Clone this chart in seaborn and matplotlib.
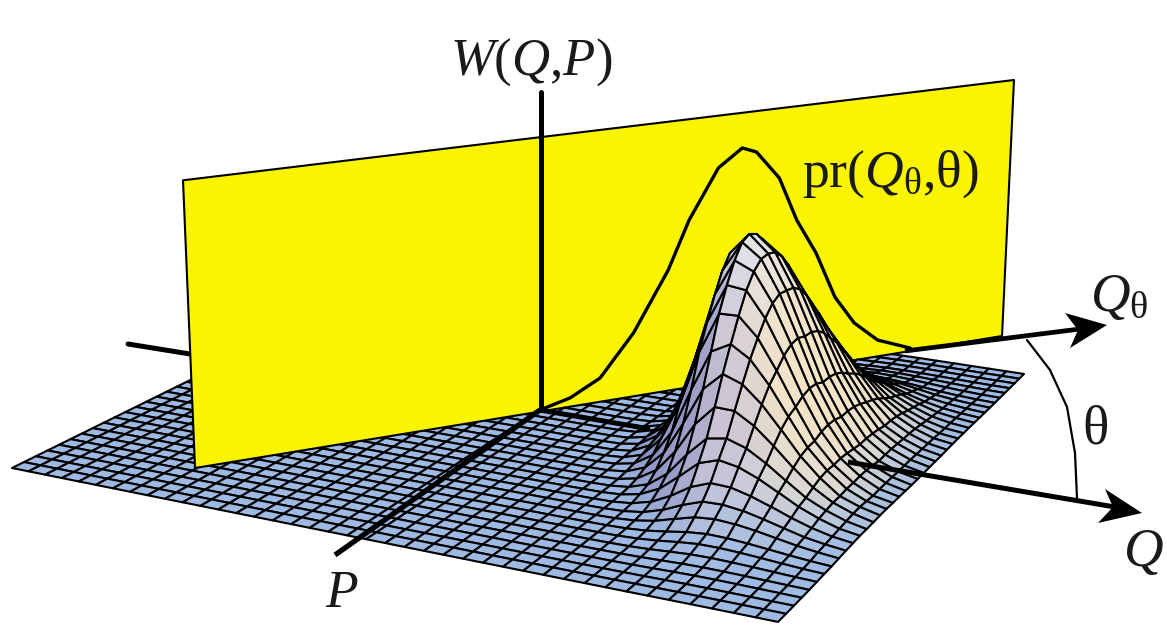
import numpy as np
import matplotlib
matplotlib.use("Agg")
import matplotlib.pyplot as plt
from matplotlib.collections import PolyCollection
import pandas as pd
import seaborn as sns

# ---------- data ----------
# camera: floor corners (s,t) = (0,0),(1,0),(1,1),(0,1) seen at these picture positions
floor_x = [12, 778, 1024, 393]
floor_y = [468, 622, 374, 280]
vertical_vanish = [573, 9517]
height_scale = -0.0315
n_cells = 40

# Wigner bump: ridge line on the floor, spreads, height
ridge_t = [0.0, 0.15, 0.30, 0.40, 0.50, 0.60, 0.70, 0.85, 1.0]
ridge_s = [0.90, 0.86, 0.815, 0.785, 0.77, 0.775, 0.79, 0.82, 0.85]
bump_t = 0.50
bump_long_front, bump_long_back = 0.13, 0.14
bump_short_left, bump_short_right = 0.044, 0.075
bump_height = 0.77
profile_pos = [0, 0.25, 0.5, 0.75, 1, 1.25, 1.5, 2, 2.5, 3, 3.5, 4, 4.5]
profile_val = [1, 0.97, 0.88, 0.755, 0.61, 0.46, 0.32, 0.135, 0.044, 0.011, 0.002, 0.0004, 0]

# yellow plane: floor points of the bottom edge and its top heights
plane_s = [0.1978, 0.9231]
plane_t = [0.1098, 1.168]
plane_top = [0.98, 1.02]

# pr(Q_theta, theta) curve on the plane: position along the base, height
pr_u = [0.3932, 0.4234, 0.4601, 0.5011, 0.5437, 0.5692, 0.6052, 0.6351, 0.6534,
        0.6837, 0.7077, 0.7345, 0.7615, 0.7889, 0.8219, 0.868]
pr_z = [0.0105, 0.0327, 0.0897, 0.2396, 0.4566, 0.6324, 0.812, 0.8756, 0.8546,
        0.7472, 0.58, 0.4434, 0.2616, 0.148, 0.0654, 0.012]

# axes and annotation geometry
axis_w = ([541, 541], [410, 92])
axis_p = ([540, 335], [410, 555])
axis_q_back = ([128, 190], [344, 354])
axis_q_near = ([540, 650], [410, 429])
axis_q_far = ([848, 1115], [462, 507])
axis_qt = ([905, 1080], [351, 329])
arc_x = [1027, 1050, 1067, 1075, 1077]
arc_y = [340, 370, 407, 453, 498]
head_qt_x = [1107, 1065, 1078, 1070]
head_qt_y = [325, 313, 330, 348]
head_q_x = [1142, 1105, 1113, 1098]
head_q_y = [513, 489, 507, 523]

FLOOR = np.array([0.62, 0.73, 0.89])
PEACH = np.array([1.0, 0.90, 0.72])
SLATE = np.array([0.36, 0.40, 0.68])
LAVENDER = np.array([0.80, 0.72, 0.78])
BACK = np.array([1.0, 0.95, 0.72])
TOP = np.array([0.90, 0.90, 0.92])
YELLOW = "#F9F500"

# ---------- set-up ----------
sns.set_theme(style="white")
plt.rcParams["mathtext.fontset"] = "custom"
plt.rcParams["mathtext.rm"] = "Liberation Serif"
plt.rcParams["mathtext.it"] = "Liberation Serif:italic"
plt.rcParams["font.family"] = ["Liberation Serif", "DejaVu Sans"]

fig = plt.figure(figsize=(11.67, 6.39), dpi=100)
ax = fig.add_axes([0, 0, 1, 1])


def camera_matrix():
    x0, x1, x2, x3 = floor_x
    y0, y1, y2, y3 = floor_y
    dx1, dx2, sx = x1 - x2, x3 - x2, x0 - x1 + x2 - x3
    dy1, dy2, sy = y1 - y2, y3 - y2, y0 - y1 + y2 - y3
    den = dx1 * dy2 - dx2 * dy1
    g = (sx * dy2 - dx2 * sy) / den
    h = (dx1 * sy - sx * dy1) / den
    k = height_scale
    return np.array([
        [x1 - x0 + g * x1, x3 - x0 + h * x3, k * vertical_vanish[0], x0],
        [y1 - y0 + g * y1, y3 - y0 + h * y3, k * vertical_vanish[1], y0],
        [g, h, k, 1.0]])


CAM = camera_matrix()
null = np.linalg.svd(CAM)[2][-1]
EYE = null[:3] / null[3]


def project(s, t, z):
    s, t, z = np.asarray(s, float), np.asarray(t, float), np.asarray(z, float)
    v = np.stack([s, t, z, np.ones_like(s)], axis=-1) @ CAM.T
    return v[..., 0] / v[..., 2], v[..., 1] / v[..., 2]


# ---------- surface ----------
grid = np.linspace(0, 1, n_cells + 1)
S, T = np.meshgrid(grid, grid, indexing="ij")
along = T - bump_t
across = S - np.interp(T, ridge_t, ridge_s)
a_n = np.abs(along) / np.where(along < 0, bump_long_front, bump_long_back)
c_n = np.abs(across) / np.where(across < 0, bump_short_left, bump_short_right)
Z = bump_height * np.interp(a_n, profile_pos, profile_val) * np.interp(c_n, profile_pos, profile_val)
PX, PY = project(S, T, Z)

# plane side of each cell
dir_s, dir_t = plane_s[1] - plane_s[0], plane_t[1] - plane_t[0]
side = (S - plane_s[0]) * dir_t - (T - plane_t[0]) * dir_s   # >0 : in front of the plane


def cell_colour(i, j):
    ds = (Z[i + 1, j] + Z[i + 1, j + 1] - Z[i, j] - Z[i, j + 1]) / 2 * n_cells
    dt = (Z[i, j + 1] + Z[i + 1, j + 1] - Z[i, j] - Z[i + 1, j]) / 2 * n_cells
    gs, gt = ds * 0.6, dt * 0.6
    nrm = 1 + gs * gs + gt * gt
    wz, ws, wt = 1 / nrm, gs * gs / nrm, gt * gt / nrm
    col = wz * FLOOR
    col = col + ws * (PEACH if gs < 0 else SLATE)
    col = col + wt * (BACK if gt < 0 else LAVENDER)
    zm = Z[i:i + 2, j:j + 2].mean() / bump_height
    col = col * (1 - zm ** 3) + TOP * zm ** 3
    lift = min(1.0, zm * 6) * (1 - zm)
    col = col * (1 - 0.25 * lift) + 0.25 * lift * np.array([0.97, 0.96, 0.95])
    return np.clip(col, 0, 1)


behind, infront = [], []
for i in range(n_cells):
    for j in range(n_cells):
        sc = S[i:i + 2, j:j + 2].mean()
        tc = T[i:i + 2, j:j + 2].mean()
        zc = Z[i:i + 2, j:j + 2].mean()
        dist = (sc - EYE[0]) ** 2 + (tc - EYE[1]) ** 2 + (zc - EYE[2]) ** 2
        poly = np.column_stack([[PX[i, j], PX[i + 1, j], PX[i + 1, j + 1], PX[i, j + 1]],
                                [PY[i, j], PY[i + 1, j], PY[i + 1, j + 1], PY[i, j + 1]]])
        rec = (dist, poly, cell_colour(i, j), zc)
        if side[i:i + 2, j:j + 2].min() > 0:
            infront.append(rec)
        else:
            behind.append(rec)


def add_cells(recs, zorder, lw=1.5):
    recs = sorted(recs, key=lambda r: -r[0])
    ax.add_collection(PolyCollection([r[1] for r in recs], facecolors=[r[2] for r in recs],
                                     edgecolors="black", linewidths=lw, zorder=zorder,
                                     joinstyle="round"))


def thick(xs, ys, lw, zorder, cap="round"):
    d = pd.DataFrame({"x": xs, "y": ys})
    sns.lineplot(data=d, x="x", y="y", sort=False, estimator=None, color="black",
                 linewidth=lw, ax=ax, zorder=zorder, solid_capstyle=cap, legend=False)


add_cells(behind, 1)
thick(*axis_q_back, 3.6, 1.5)

# plane
px0, py0 = project(plane_s, plane_t, [0, 0])
px1, py1 = project(plane_s, plane_t, plane_top)
ax.fill([px0[0], px0[1], px1[1], px1[0]], [py0[0], py0[1], py1[1], py1[0]],
        facecolor=YELLOW, edgecolor="black", linewidth=1.5, zorder=2, joinstyle="round")

# curve on plane
pu = np.array(pr_u)
px2, py2 = project(plane_s[0] + pu * dir_s, plane_t[0] + pu * dir_t, pr_z)
thick(px2, py2, 2.4, 2.5)
thick(*axis_w, 3.6, 2.6)

add_cells(infront, 3)
thick(*axis_p, 3.8, 3.2, cap="butt")
thick(*axis_q_near, 3.6, 3.2, cap="butt")

thick(*axis_q_far, 3.6, 4, cap="butt")
thick(*axis_qt, 3.4, 4, cap="butt")
thick(arc_x, arc_y, 1.6, 4)
ax.fill(head_qt_x, head_qt_y, color="black", zorder=5, linewidth=0)
ax.fill(head_q_x, head_q_y, color="black", zorder=5, linewidth=0)

# ---------- labels ----------
tc = "#1a1a1a"
ax.text(531, 75, r"$W\mathrm{(}Q{,}P\mathrm{)}$", fontsize=38, ha="center", va="baseline", color=tc)
ax.text(802, 187, r"$\mathrm{pr(}Q_{\mathrm{θ}}{,}\mathrm{θ)}$", fontsize=38.5, ha="left", va="baseline", color=tc)
ax.text(342, 607, r"$P$", fontsize=38.5, ha="center", va="baseline", color=tc)
ax.text(1090, 311, r"$Q_{\mathrm{θ}}$", fontsize=39.5, ha="left", va="baseline", color=tc)
ax.text(1095, 444, r"$\mathrm{θ}$", fontsize=39.5, ha="center", va="baseline", color=tc)
ax.text(1143, 566, r"$Q$", fontsize=39.5, ha="center", va="baseline", color=tc)

ax.set_xlim(0, 1167)
ax.set_ylim(639, 0)
ax.set_xlabel("")
ax.set_ylabel("")
ax.axis("off")
fig.savefig("out.png", dpi=100, facecolor="white")
